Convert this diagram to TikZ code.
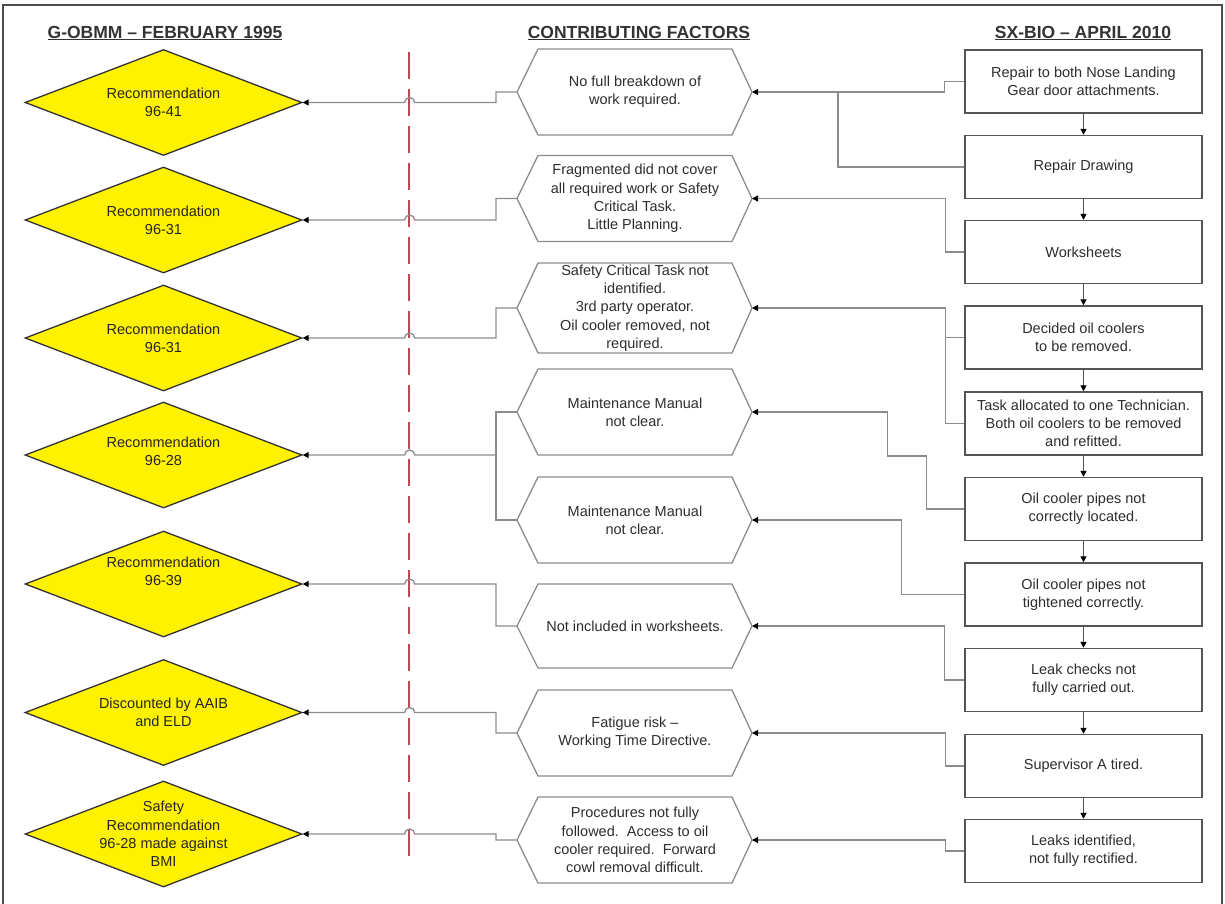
\documentclass[tikz,border=0pt]{standalone}
\usepackage{fontspec}
\setmainfont{Liberation Sans}
\usetikzlibrary{shapes.geometric,arrows.meta,calc}
\definecolor{conngray}{RGB}{140,140,140}
\definecolor{boxgray}{RGB}{85,85,85}
\definecolor{dashred}{RGB}{190,70,85}
\definecolor{txt}{RGB}{45,45,45}
\begin{document}
\begin{tikzpicture}[x=1pt,y=-1pt,
  every node/.style={font=\fontsize{14.5}{18.3}\selectfont, text=txt},
  dia/.style={diamond, draw=black!80, line width=1.3pt, fill=yellow, minimum width=277pt, minimum height=106pt, inner sep=0pt},
  dtext/.style={align=center, text=black!85, inner sep=0pt},
  hexbox/.style={align=center, inner sep=0pt},
  hexline/.style={draw=conngray, line width=1.3pt, line join=miter},
  stepbox/.style={draw=boxgray, line width=1.4pt, minimum width=237pt, minimum height=63pt, align=center, inner sep=0pt},
  conn/.style={draw=conngray, line width=1.3pt},
  boxarrow/.style={draw=boxgray, line width=1.3pt},
  tip/.style={-{Triangle[length=6pt,width=6pt,color=black]}},
  head/.style={font=\fontsize{17.5}{20}\selectfont\bfseries, text=black!80}
]
\useasboundingbox (0,0) rectangle (1225,903);
% frame
\draw[draw=black!70, line width=2pt] (3,905) -- (3,5) -- (1222,5) -- (1222,905);

% headers
\node[head] (t1) at (165,33) {\underline{G-OBMM – FEBRUARY 1995}};
\node[head] (t2) at (639,33) {\underline{CONTRIBUTING FACTORS}};
\node[head] (t3) at (1083,33) {\underline{SX-BIO – APRIL 2010}};

% dashed divider
\draw[dashred, line width=1.6pt, dash pattern=on 27pt off 10pt] (409,52) -- (409,862);

% diamonds
\node[dia, label={[dtext]center:{Recommendation\\96-41}}] (d1) at (163.5,102.5) {};
\node[dia, label={[dtext]center:{Recommendation\\96-31}}] (d2) at (163.5,220) {};
\node[dia, label={[dtext]center:{Recommendation\\96-31}}] (d3) at (163.5,338) {};
\node[dia, label={[dtext,yshift=4pt]center:{Recommendation\\96-28}}] (d4) at (163.5,455) {};
\node[dia, label={[dtext,yshift=13pt]center:{Recommendation\\96-39}}] (d5) at (163.5,584) {};
\node[dia, label={[dtext]center:{Discounted by AAIB\\and ELD}}] (d6) at (163.5,712.5) {};
\node[dia, label={[dtext]center:{Safety\\Recommendation\\96-28 made against\\BMI}}] (d7) at (163.5,834) {};

% hexagons (contributing factors)
\node[hexbox] (h1) at (635,92) {No full breakdown of\\work required.};
\node[hexbox] (h2) at (635,198.5) {Fragmented did not cover\\all required work or Safety\\Critical Task.\\Little Planning.};
\node[hexbox] (h3) at (635,308) {Safety Critical Task not\\identified.\\3rd party operator.\\Oil cooler removed, not\\required.};
\node[hexbox] (h4) at (635,412) {Maintenance Manual\\not clear.};
\node[hexbox] (h5) at (635,520) {Maintenance Manual\\not clear.};
\node[hexbox] (h6) at (635,626) {Not included in worksheets.};
\node[hexbox] (h7) at (635,733) {Fatigue risk –\\Working Time Directive.};
\node[hexbox] (h8) at (635,840) {Procedures not fully\\followed.\ \ Access to oil\\cooler required.\ \ Forward\\cowl removal difficult.};
\foreach \h/\hh in {h1/43,h2/43,h3/45,h4/43,h5/43,h6/42,h7/43,h8/43}{
  \draw[hexline] ($(\h)+(-97,-\hh)$) -- ($(\h)+(97,-\hh)$) -- ($(\h)+(117,0)$)
     -- ($(\h)+(97,\hh)$) -- ($(\h)+(-97,\hh)$) -- ($(\h)+(-118,0)$) -- cycle;
  \coordinate (\h-L) at ($(\h)+(-118,0)$);
  \coordinate (\h-R) at ($(\h)+(117,0)$);
}

% right column boxes
\node[stepbox] (b1) at (1083.5,81.5) {Repair to both Nose Landing\\Gear door attachments.};
\node[stepbox] (b2) at (1083.5,167) {Repair Drawing};
\node[stepbox] (b3) at (1083.5,252) {Worksheets};
\node[stepbox] (b4) at (1083.5,337.5) {Decided oil coolers\\to be removed.};
\node[stepbox] (b5) at (1083.5,423.5) {Task allocated to one Technician.\\Both oil coolers to be removed\\and refitted.};
\node[stepbox] (b6) at (1083.5,509) {Oil cooler pipes not\\correctly located.};
\node[stepbox] (b7) at (1083.5,594.5) {Oil cooler pipes not\\tightened correctly.};
\node[stepbox] (b8) at (1083.5,680) {Leak checks not\\fully carried out.};
\node[stepbox] (b9) at (1083.5,766) {Supervisor A tired.};
\node[stepbox] (b10) at (1083.5,851) {Leaks identified,\\not fully rectified.};
\foreach \a/\b in {b1/b2,b2/b3,b3/b4,b4/b5,b5/b6,b6/b7,b7/b8,b8/b9,b9/b10}
  \draw[boxarrow,tip] (\a.south) -- (\b.north);

% boxes -> contributing factors
\coordinate (j1) at ($(h1-R)+(86,0)$);
\draw[conn,tip] (b1.west) -- ++(-20,0) |- (h1-R);
\draw[conn] (b2.west) -| (j1);
\draw[conn,tip] (b3.west) -- ++(-19,0) |- (h2-R);
\draw[conn,tip] (b4.west) -- ++(-19,0) |- (h3-R);
\draw[conn] (b5.west) -- ++(-19,0) |- (b4.west);
\draw[conn,tip] (b6.west) -- ++(-38,0) -- ++(0,-53) -- ++(-39,0) |- (h4-R);
\draw[conn,tip] (b7.west) -- ++(-63,0) |- (h5-R);
\draw[conn,tip] (b8.west) -- ++(-20,0) |- (h6-R);
\draw[conn,tip] (b9.west) -- ++(-19,0) |- (h7-R);
\draw[conn,tip] (b10.west) -- ++(-19,0) |- (h8-R);

% contributing factors -> 1995 recommendations (with hops over the divider)
\foreach \h/\d in {h1/d1,h2/d2,h3/d3,h4/d4,h6/d5,h7/d6,h8/d7}
  \draw[conn,tip] (\h-L) -- ++(-21,0) |- ($(\d.east)+(112,0)$)
     arc[start angle=0,end angle=180,radius=5pt] -- (\d.east);
\draw[conn] (h5-L) -- ++(-21,0) |- (h4-L);
\end{tikzpicture}
\end{document}
